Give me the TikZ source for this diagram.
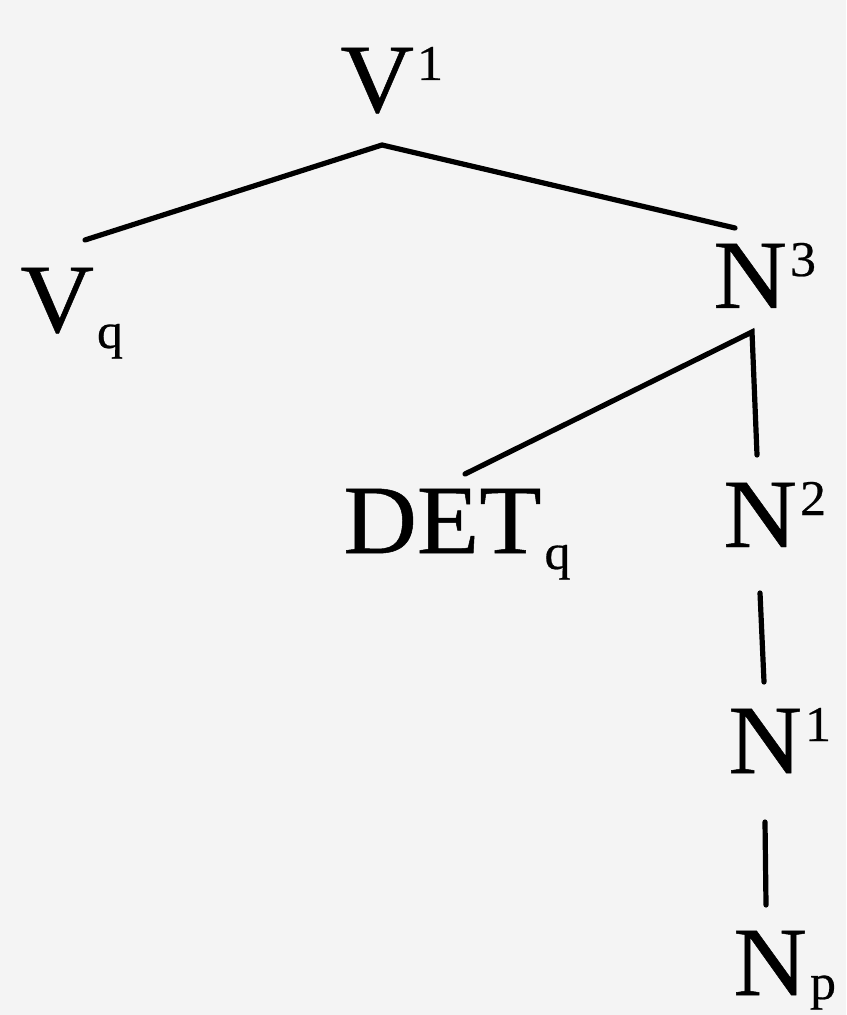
\documentclass[tikz,border=0pt]{standalone}
\usepackage{fontspec}
\setmainfont{Liberation Serif}
\newfontfamily\heavy[FakeBold=0.5,FakeStretch=1.04]{Liberation Serif}
\newcommand{\supx}[1]{\kern1.5pt\raisebox{16pt}{\fontsize{25}{25}\selectfont #1}}
\newcommand{\subx}[2][8pt]{\kern1.5pt\raisebox{-#1}{\fontsize{25}{25}\selectfont #2}}
\definecolor{paper}{HTML}{F4F4F4}
\begin{document}
\begin{tikzpicture}[x=0.5pt,y=-0.5pt,
  lbl/.style={inner sep=0pt, anchor=base west, font=\heavy\fontsize{49}{55}\selectfont},
  edge/.style={line width=2.6pt, line cap=round}]
\useasboundingbox (0,0) rectangle (846,1015);
\clip (0,0) rectangle (846,1015);
\fill[paper] (0,0) rectangle (846,1015);
\node[lbl] (v1) at (340,112) {V\supx{1}};
\node[lbl] (vq) at (20,332) {V\subx{q}};
\node[lbl] (n3) at (713,308) {N\supx{3}};
\node[lbl] (det) at (343,553) {DET\subx{q}};
\node[lbl] (n2) at (723,547) {N\supx{2}};
\node[lbl] (n1) at (728,773) {N\supx{1}};
\node[lbl] (np) at (733,995) {N\subx[2pt]{p}};
\draw[edge] ([shift={(65,-92)}]vq.base west) -- ([shift={(42,33)}]v1.base west) -- ([shift={(22,-80)}]n3.base west);
\draw[edge] ([shift={(122,-79)}]det.base west) -- ([shift={(39,24)}]n3.base west) -- ([shift={(34,-92)}]n2.base west);
\draw[edge] ([shift={(37,46)}]n2.base west) -- ([shift={(36,-91)}]n1.base west);
\draw[edge] ([shift={(37,49)}]n1.base west) -- ([shift={(33,-90)}]np.base west);
\end{tikzpicture}
\end{document}
